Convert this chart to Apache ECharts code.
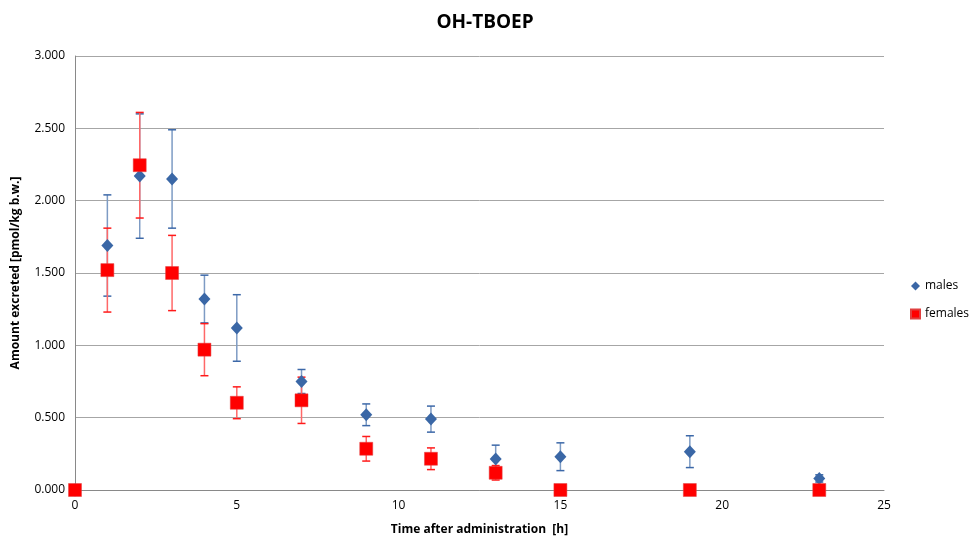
<!DOCTYPE html>
<html>
<head>
<meta charset="utf-8">
<script src="https://cdn.jsdelivr.net/npm/echarts@6/dist/echarts.min.js"></script>
<style>
  html, body { margin: 0; padding: 0; background: #fff; }
  #main { width: 971px; height: 541px; }
</style>
</head>
<body>
<div id="main"></div>
<script>
// time points [h]
var times = [0, 1, 2, 3, 4, 5, 7, 9, 11, 13, 15, 19, 23]
// males: mean and +/- error
var malesMean = [0, 1.69, 2.17, 2.15, 1.32, 1.12, 0.75, 0.52, 0.49, 0.215, 0.23, 0.265, 0.08]
var malesErr  = [0, 0.35, 0.43, 0.34, 0.165, 0.23, 0.083, 0.075, 0.09, 0.095, 0.096, 0.11, 0.025]
// females
var femalesMean = [0, 1.52, 2.245, 1.50, 0.97, 0.603, 0.62, 0.285, 0.216, 0.119, 0, 0, 0]
var femalesErr  = [0, 0.29, 0.365, 0.26, 0.18, 0.11, 0.16, 0.085, 0.075, 0.05, 0, 0, 0]

var chart = echarts.init(document.getElementById('main'))

function pts(mean) {
  return times.map(function (t, i) { return [t, mean[i]] })
}
function errData(mean, err) {
  return times.map(function (t, i) { return [t, mean[i] - err[i], mean[i] + err[i]] })
}

// draws vertical error bars with caps
function errRender(lineColor, capColor) {
  return function (params, api) {
    var lo = api.coord([api.value(0), api.value(1)])
    var hi = api.coord([api.value(0), api.value(2)])
    if (api.value(2) - api.value(1) <= 0) return
    var w = 4
    return {
      type: 'group',
      children: [
        { type: 'line', shape: { x1: lo[0], y1: lo[1], x2: hi[0], y2: hi[1] }, style: { stroke: lineColor, lineWidth: 1.5 } },
        { type: 'line', shape: { x1: lo[0] - w, y1: lo[1], x2: lo[0] + w, y2: lo[1] }, style: { stroke: capColor, lineWidth: 1.5 } },
        { type: 'line', shape: { x1: hi[0] - w, y1: hi[1], x2: hi[0] + w, y2: hi[1] }, style: { stroke: capColor, lineWidth: 1.5 } }
      ]
    }
  }
}

var option = {
  backgroundColor: '#fff',
  animation: false,
  title: {
    text: 'OH-TBOEP',
    left: 480,
    top: 8,
    textAlign: 'center',
    textStyle: { fontFamily: 'Open Sans', fontSize: 19, fontWeight: 'bold', color: '#000' }
  },
  legend: {
    orient: 'vertical',
    left: 910,
    top: 280,
    padding: 0,
    itemGap: 16,
    itemWidth: 9,
    itemHeight: 9,
    textStyle: { fontFamily: 'Open Sans', fontSize: 12, color: '#000', width: 60, overflow: 'none' },
    data: [{ name: 'males', icon: 'diamond' }, { name: 'females', icon: 'rect' }]
  },
  grid: { left: 75, right: 87, top: 56, bottom: 49 },
  xAxis: {
    type: 'value',
    min: 0,
    max: 25,
    interval: 5,
    name: 'Time after administration  [h]',
    nameLocation: 'middle',
    nameGap: 34,
    nameTextStyle: { fontFamily: 'Open Sans', fontSize: 12, fontWeight: 'bold', color: '#000' },
    axisLine: { lineStyle: { color: '#898989' } },
    axisTick: { show: false },
    axisLabel: { fontFamily: 'Open Sans', fontSize: 12, color: '#000', margin: 10 },
    splitLine: { show: false }
  },
  yAxis: {
    type: 'value',
    min: 0,
    max: 3,
    interval: 0.5,
    name: 'Amount excreted [pmol/kg b.w.]',
    nameLocation: 'middle',
    nameGap: 53,
    nameTextStyle: { fontFamily: 'Open Sans', fontSize: 12, fontWeight: 'bold', color: '#000' },
    axisLine: { show: true, lineStyle: { color: '#898989' } },
    axisTick: { show: false },
    axisLabel: {
      fontFamily: 'Open Sans', fontSize: 12, color: '#000', margin: 10,
      formatter: function (v) { return v.toFixed(3) }
    },
    splitLine: { lineStyle: { color: '#a6a6a6', width: 1 } }
  },
  series: [
    {
      name: 'males-err',
      type: 'custom',
      renderItem: errRender('#7d9bc4', '#3c68a8'),
      data: errData(malesMean, malesErr),
      encode: { x: 0, y: [1, 2] },
      z: 2
    },
    {
      name: 'females-err',
      type: 'custom',
      renderItem: errRender('#ff6868', '#ff1a1a'),
      data: errData(femalesMean, femalesErr),
      encode: { x: 0, y: [1, 2] },
      z: 2
    },
    {
      name: 'males',
      type: 'scatter',
      symbol: 'diamond',
      symbolSize: [12, 13],
      itemStyle: { color: '#3a67a6', opacity: 1 },
      data: pts(malesMean),
      z: 3
    },
    {
      name: 'females',
      type: 'scatter',
      symbol: 'rect',
      symbolSize: 13,
      itemStyle: { color: '#ff0000', borderColor: '#e04040', borderWidth: 0.5, opacity: 1 },
      data: pts(femalesMean),
      z: 4
    }
  ]
}

chart.setOption(option)
</script>
</body>
</html>
